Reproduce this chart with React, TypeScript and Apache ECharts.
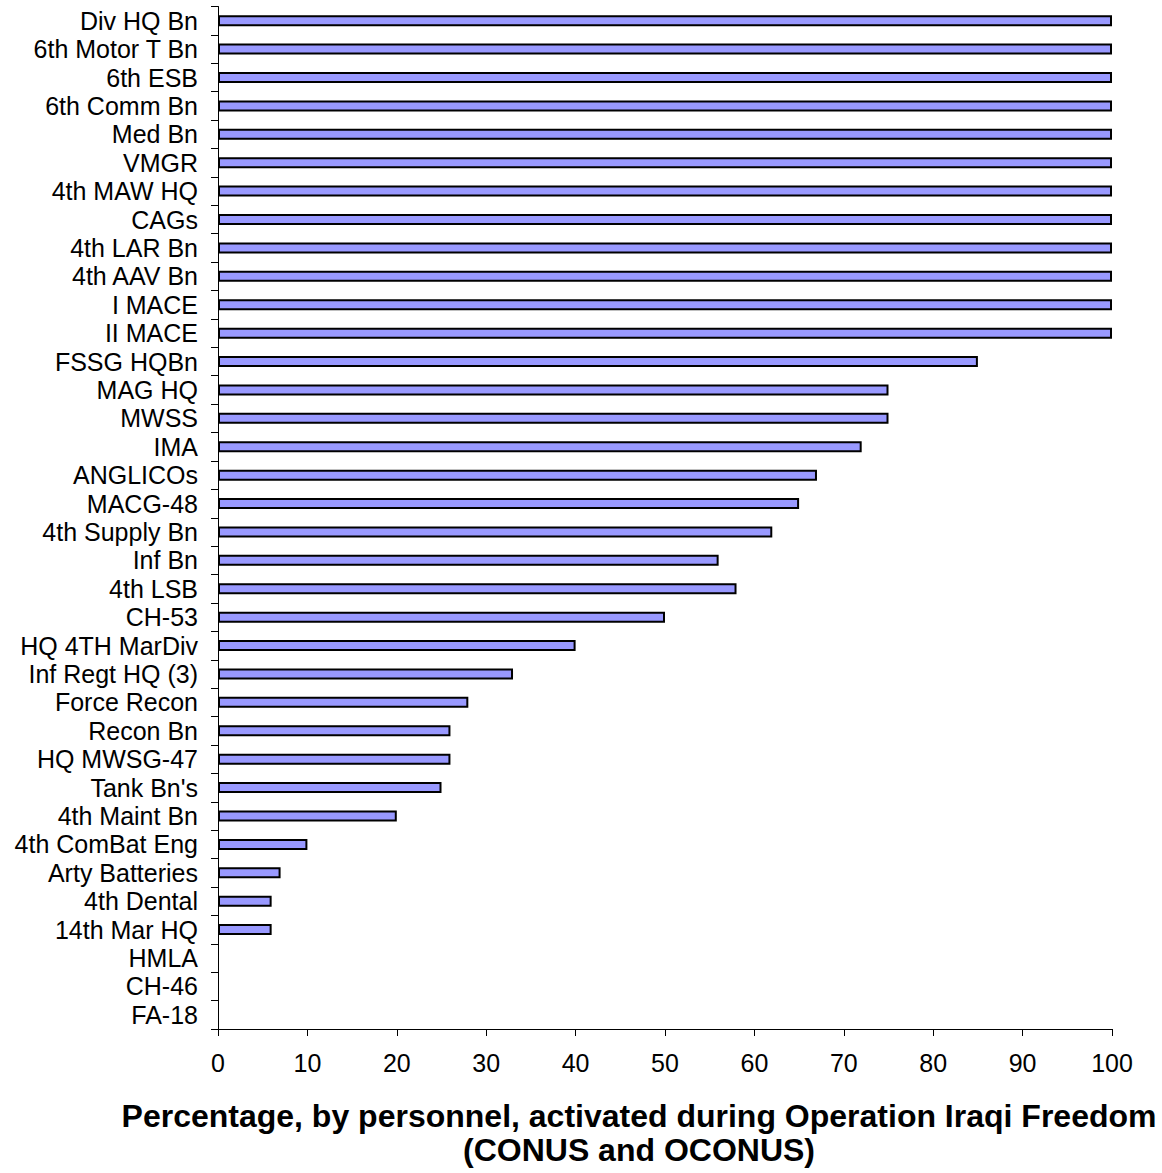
import React, { useEffect, useRef } from "react";
import * as echarts from "echarts";

const categories: string[] = [
  "Div HQ Bn", "6th Motor T Bn", "6th ESB", "6th Comm Bn", "Med Bn", "VMGR",
  "4th MAW HQ", "CAGs", "4th LAR Bn", "4th AAV Bn", "I MACE", "II MACE",
  "FSSG HQBn", "MAG HQ", "MWSS", "IMA", "ANGLICOs", "MACG-48",
  "4th Supply Bn", "Inf Bn", "4th LSB", "CH-53", "HQ 4TH MarDiv", "Inf Regt HQ (3)",
  "Force Recon", "Recon Bn", "HQ MWSG-47", "Tank Bn's", "4th Maint Bn", "4th ComBat Eng",
  "Arty Batteries", "4th Dental", "14th Mar HQ", "HMLA", "CH-46", "FA-18",
];

const values: number[] = [
  100, 100, 100, 100, 100, 100,
  100, 100, 100, 100, 100, 100,
  85, 75, 75, 72, 67, 65,
  62, 56, 58, 50, 40, 33,
  28, 26, 26, 25, 20, 10,
  7, 6, 6, 0, 0, 0,
];

const xTicks = { min: 0, max: 100, interval: 10 };

const titleLines: string[] = [
  "Percentage, by personnel, activated during Operation Iraqi Freedom",
  "(CONUS and OCONUS)",
];

const FONT = '"Liberation Sans", Arial, sans-serif';

export default function App() {
  const ref = useRef<HTMLDivElement>(null);
  useEffect(() => {
    document.body.style.margin = "0";
    if (!ref.current) return;
    const chart = echarts.init(ref.current, null, { renderer: "svg" });
    chart.setOption({
      animation: false,
      backgroundColor: "#ffffff",
      textStyle: { fontFamily: FONT },
      grid: { left: 218, right: 50, top: 6.5, bottom: 144, containLabel: false },
      title: {
        text: titleLines.join("\n"),
        left: 634,
        top: 1094,
        textAlign: "center",
        textStyle: {
          fontFamily: FONT,
          fontSize: 32,
          fontWeight: "bold",
          color: "#000",
          lineHeight: 34,
        },
      },
      xAxis: {
        type: "value",
        min: xTicks.min,
        max: xTicks.max,
        interval: xTicks.interval,
        splitLine: { show: false },
        axisLine: { show: true, lineStyle: { color: "#000", width: 1 } },
        axisTick: { show: true, length: 7, lineStyle: { color: "#000" } },
        axisLabel: { fontFamily: FONT, fontSize: 25, color: "#000", margin: 21 },
      },
      yAxis: {
        type: "category",
        data: categories,
        inverse: true,
        axisLine: { show: true, lineStyle: { color: "#000", width: 1 } },
        axisTick: { show: true, length: 7, interval: 0, lineStyle: { color: "#000" } },
        axisLabel: {
          fontFamily: FONT,
          fontSize: 25,
          color: "#000",
          margin: 20,
          interval: 0,
          hideOverlap: false,
        },
      },
      series: [
        {
          type: "bar",
          data: values.map((v) =>
            v === 0 ? { value: v, itemStyle: { borderWidth: 0 } } : v
          ),
          barWidth: 11,
          itemStyle: { color: "#9999FF", borderColor: "#000", borderWidth: 2 },
        },
      ],
    });
    return () => chart.dispose();
  }, []);
  return <div ref={ref} style={{ width: 1162, height: 1173 }} />;
}
